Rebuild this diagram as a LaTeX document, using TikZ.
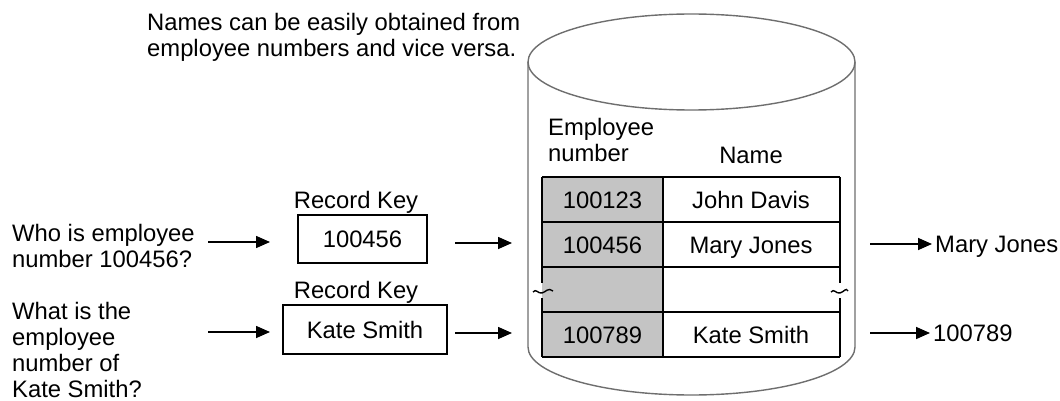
\documentclass[tikz,border=0pt]{standalone}
\usepackage{fontspec}
\setmainfont{Liberation Sans}
\usetikzlibrary{arrows.meta}
\definecolor{cellgray}{RGB}{196,196,196}
\definecolor{cylgray}{RGB}{110,110,110}
\begin{document}
\begin{tikzpicture}[x=1pt,y=-1pt,
  txt/.style={font=\fontsize{23.8}{26}\selectfont, inner sep=0pt},
  one/.style={txt, text height=17pt, text depth=0pt},
  arr/.style={line width=1.6pt, -{Triangle[length=14pt,width=12pt]}},
  keybox/.style={draw, line width=1.6pt, inner sep=0pt, font=\fontsize{23.8}{26}\selectfont, text height=17pt, text depth=0pt},
  tline/.style={line width=1.6pt},
  cyl/.style={draw=cylgray, line width=1.4pt},
  wave/.style={line width=1.4pt}]
\useasboundingbox (0,0) rectangle (1060,401);

% cylinder
\fill[white] (528,62) -- (528,347) arc[start angle=180,end angle=0,x radius=163.5,y radius=48] -- (855,62) -- cycle;
\draw[cyl] (528,62) -- (528,347) arc[start angle=180,end angle=0,x radius=163.5,y radius=48] -- (855,62);
\draw[cyl] (691.5,62) ellipse[x radius=163.5, y radius=48];

% top caption
\node[txt, align=left, anchor=west] (cap) at (147,37) {Names can be easily obtained from\\employee numbers and vice versa.};

% table
\fill[cellgray] (542,177) rectangle (663,357);
\draw[tline] (542,177) -- (840,177);
\draw[tline] (542,222) -- (840,222);
\draw[tline] (542,267) -- (840,267);
\draw[tline] (542,312) -- (840,312);
\draw[tline] (542,357) -- (840,357);
\draw[tline] (663,177) -- (663,357);
\draw[tline] (542,177) -- (542,283);
\draw[tline] (542,298) -- (542,357);
\draw[tline] (840,177) -- (840,283);
\draw[tline] (840,298) -- (840,357);
\draw[wave] (533,292) .. controls (536,288) and (538,294) .. (542,293) .. controls (546,292) and (548,287) .. (553,291);
\draw[wave] (831,292) .. controls (834,288) and (836,294) .. (840,293) .. controls (844,292) and (846,287) .. (848,291);

% headers
\node[txt, align=left, anchor=west] (hnum) at (548,140) {Employee\\number};
\node[one] (hname) at (751,155) {Name};

% cells
\node[one] (n1) at (602.5,200) {100123};
\node[one] (m1) at (751,200) {John Davis};
\node[one] (n2) at (602.5,245) {100456};
\node[one] (m2) at (751,245) {Mary Jones};
\node[one] (n4) at (602.5,335) {100789};
\node[one] (m4) at (751,335) {Kate Smith};

% questions
\node[txt, align=left, anchor=west] (q1) at (12,246) {Who is employee\\number 100456?};
\node[txt, align=left, anchor=west] (q2) at (12,350) {What is the\\employee\\number of\\Kate Smith?};

% record keys
\node[one] (rk1) at (356,200) {Record Key};
\node[keybox, minimum width=129pt, minimum height=48pt] (k1) at (362.5,239) {100456};
\node[one] (rk2) at (356,290) {Record Key};
\node[keybox, minimum width=164pt, minimum height=49pt] (k2) at (365,329.5) {Kate Smith};

% results
\node[one, anchor=west] (r1) at (935,244) {Mary Jones};
\node[one, anchor=west] (r2) at (933,333) {100789};

% arrow end points
\coordinate (a1s) at (208,242);
\coordinate (a1e) at (270,242);
\coordinate (a2s) at (208,332);
\coordinate (a2e) at (270,332);
\coordinate (b1s) at (455,243);
\coordinate (b1e) at (512,243);
\coordinate (b2s) at (455,333);
\coordinate (b2e) at (512,333);
\coordinate (c1s) at (870,244);
\coordinate (c2s) at (870,333);

\draw[arr] (a1s) -- (a1e);
\draw[arr] (a2s) -- (a2e);
\draw[arr] (b1s) -- (b1e);
\draw[arr] (b2s) -- (b2e);
\draw[arr, shorten >=3pt] (c1s) -- (r1.west);
\draw[arr, shorten >=3pt] (c2s) -- (r2.west);
\end{tikzpicture}
\end{document}
